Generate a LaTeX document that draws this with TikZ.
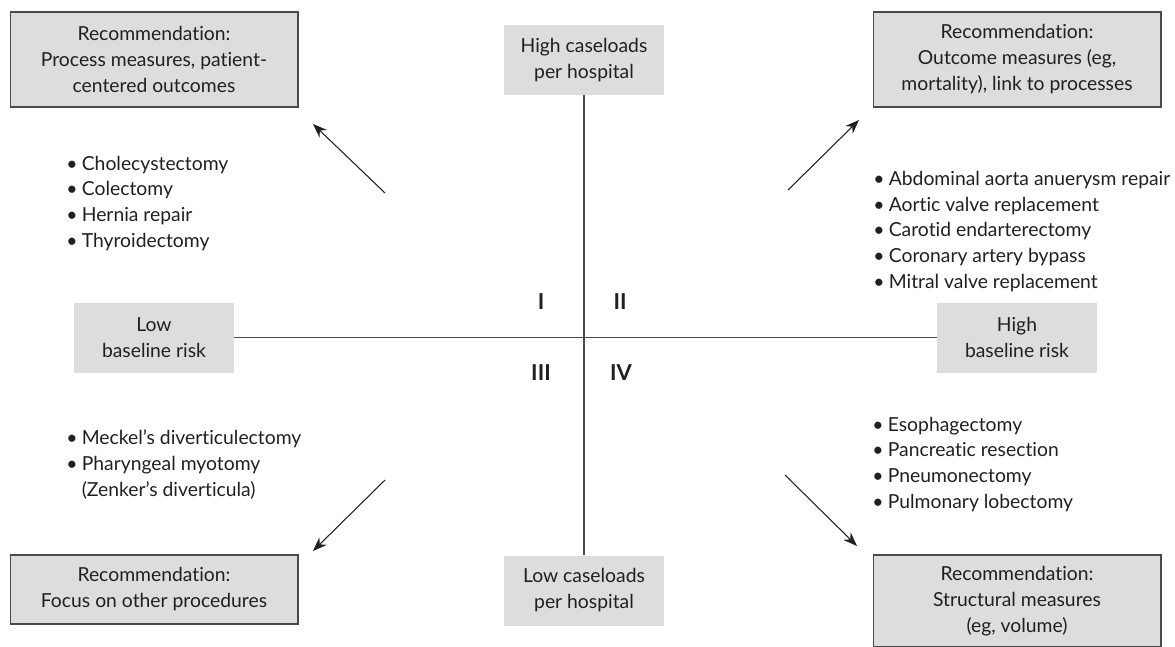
\documentclass[tikz,border=0pt]{standalone}
\usepackage{fontspec}
\setmainfont{Lato}[Ligatures=NoCommon]
\usepackage{xcolor}
\usepackage{tikz}
\usetikzlibrary{positioning, arrows.meta}
\definecolor{qInk}{HTML}{231F20}
\definecolor{qLine}{HTML}{4A4A4A}
\definecolor{qFill}{HTML}{DCDDDF}
\newcommand{\qtext}{\fontsize{11}{14.8}\selectfont}
\newcommand{\qlist}{\fontsize{11}{14.6}\selectfont}
\newcommand{\qb}{\textbullet\hspace{0.22em}}

\begin{document}
\begin{tikzpicture}[x=0.02cm, y=-0.02cm, >={Stealth[length=8pt,width=6pt]},
  recbox/.style={draw=qLine, fill=qFill, line width=0.6pt, minimum width=5.76cm, align=center, inner sep=0pt, text=qInk, font=\qtext},
  axisbox/.style={fill=qFill, minimum width=3.2cm, minimum height=1.4cm, align=center, inner sep=0pt, text=qInk, font=\qtext},
  bullets/.style={anchor=base west, align=left, inner sep=0pt, text=qInk, font=\qlist},
  quad/.style={inner sep=0pt, text=qInk, font=\fontsize{12.5}{14}\selectfont\bfseries},
  axisline/.style={qLine, line width=1pt},
  trend/.style={->, qInk, line width=0.6pt}]
  \clip (0,0) rectangle (1175,646);
  \useasboundingbox (0,0) rectangle (1175,646);

  % recommendation boxes
  \node[recbox, minimum height=1.9cm] (recI) at (154,59.5) {Recommendation:\\Process measures, patient-\\centered outcomes};
  \node[recbox, minimum height=1.9cm] (recII) at (1017,59.5) {Recommendation:\\Outcome measures (eg,\\mortality), link to processes};
  \node[recbox, minimum height=1.38cm] (recIII) at (154,589.5) {Recommendation:\\Focus on other procedures};
  \node[recbox, minimum height=1.84cm] (recIV) at (1017,601) {Recommendation:\\Structural measures\\(eg, volume)};

  % axis ends
  \node[axisbox] (hiCase) at (584,60) {High caseloads\\per hospital};
  \node[axisbox] (loCase) at (584,590.5) {Low caseloads\\per hospital};
  \node[axisbox] (loRisk) at (154,337.5) {Low\\baseline risk};
  \node[axisbox] (hiRisk) at (1017,337.5) {High\\baseline risk};
  \draw[axisline] (hiCase) -- (loCase);
  \draw[axisline] (loRisk) -- (hiRisk);

  \node[quad] (qI) at (541,302) {I};
  \node[quad] (qII) at (620,302) {II};
  \node[quad] (qIII) at (541,373) {III};
  \node[quad] (qIV) at (621,373) {IV};

  % procedure lists (anchored on the last line)
  \node[bullets] (listI) at (66,247) {\qb Cholecystectomy\\\qb Colectomy\\\qb Hernia repair\\\qb Thyroidectomy};
  \node[bullets] (listII) at (873,288) {\qb Abdominal aorta anuerysm repair\\\qb Aortic valve replacement\\\qb Carotid endarterectomy\\\qb Coronary artery bypass\\\qb Mitral valve replacement};
  \node[bullets] (listIII) at (66,496) {\qb Meckel's diverticulectomy\\\qb Pharyngeal myotomy\\\phantom{\qb}(Zenker's diverticula)};
  \node[bullets] (listIV) at (872,508) {\qb Esophagectomy\\\qb Pancreatic resection\\\qb Pneumonectomy\\\qb Pulmonary lobectomy};

  % arrows to recommendations
  \coordinate (tI) at (385,193);   \coordinate (hI) at (313,124);
  \coordinate (tII) at (788,190);  \coordinate (hII) at (859,120);
  \coordinate (tIII) at (385,480); \coordinate (hIII) at (313,551);
  \coordinate (tIV) at (785,475);  \coordinate (hIV) at (857,546);
  \draw[trend] (tI) -- (hI);
  \draw[trend] (tII) -- (hII);
  \draw[trend] (tIII) -- (hIII);
  \draw[trend] (tIV) -- (hIV);
\end{tikzpicture}
\end{document}
